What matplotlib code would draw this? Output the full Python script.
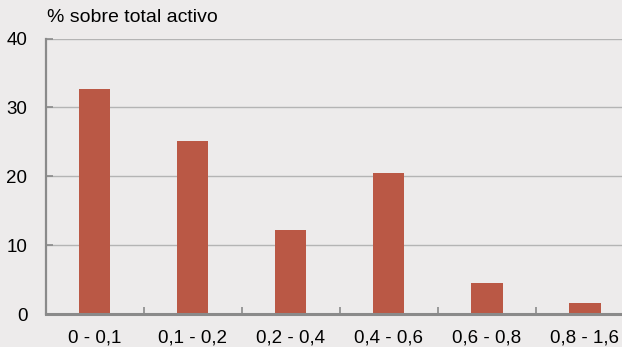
import matplotlib.pyplot as plt
from matplotlib.ticker import FixedLocator

plt.rcParams['font.family'] = ['Liberation Sans', 'DejaVu Sans']

# ---- Data ----
categories = ['0 - 0,1', '0,1 - 0,2', '0,2 - 0,4', '0,4 - 0,6', '0,6 - 0,8', '0,8 - 1,6']
values = [32.7, 25.1, 12.2, 20.5, 4.5, 1.7]
y_ticks = [0, 10, 20, 30, 40]

bg = '#EDEBEB'
bar_color = '#BA5845'
axis_color = '#8A8A8A'
fs = 13.5

fig = plt.figure(figsize=(6.22, 3.47), dpi=100, facecolor=bg)
ax = fig.add_axes([45.5 / 622, 32.7 / 347, 1 - 45.5 / 622, (314.3 - 38.5) / 347])
ax.set_facecolor(bg)

x = range(len(categories))
ax.bar(x, values, width=0.32, color=bar_color, zorder=3)

ax.set_xlim(-0.5, 5.378)
ax.set_ylim(0, 40)

# ---- Grid / spines ----
ax.set_yticks(y_ticks)
ax.yaxis.grid(True, color='#B4B4B4', linewidth=1.0, zorder=0)
ax.spines['top'].set_visible(False)
ax.spines['right'].set_visible(False)
ax.spines['left'].set_color(axis_color)
ax.spines['left'].set_linewidth(1.6)
ax.spines['bottom'].set_color(axis_color)
ax.spines['bottom'].set_linewidth(2.2)
ax.spines['bottom'].set_zorder(4)

ax.tick_params(axis='y', direction='in', length=5, width=1.2, color=axis_color,
               labelsize=fs, pad=13)

# category labels at centers, boundary ticks between them
ax.set_xticks(list(x))
ax.set_xticklabels(categories)
ax.tick_params(axis='x', which='major', length=0, labelsize=fs, pad=11)
ax.xaxis.set_minor_locator(FixedLocator([i + 0.5 for i in range(len(categories) - 1)]))
ax.tick_params(axis='x', which='minor', direction='in', length=5, width=1.2, color=axis_color)

fig.text(47 / 622, 1 - 18 / 347, '% sobre total activo', fontsize=fs + 0.5, va='center', ha='left')

plt.savefig('out.png', dpi=100, facecolor=bg)
